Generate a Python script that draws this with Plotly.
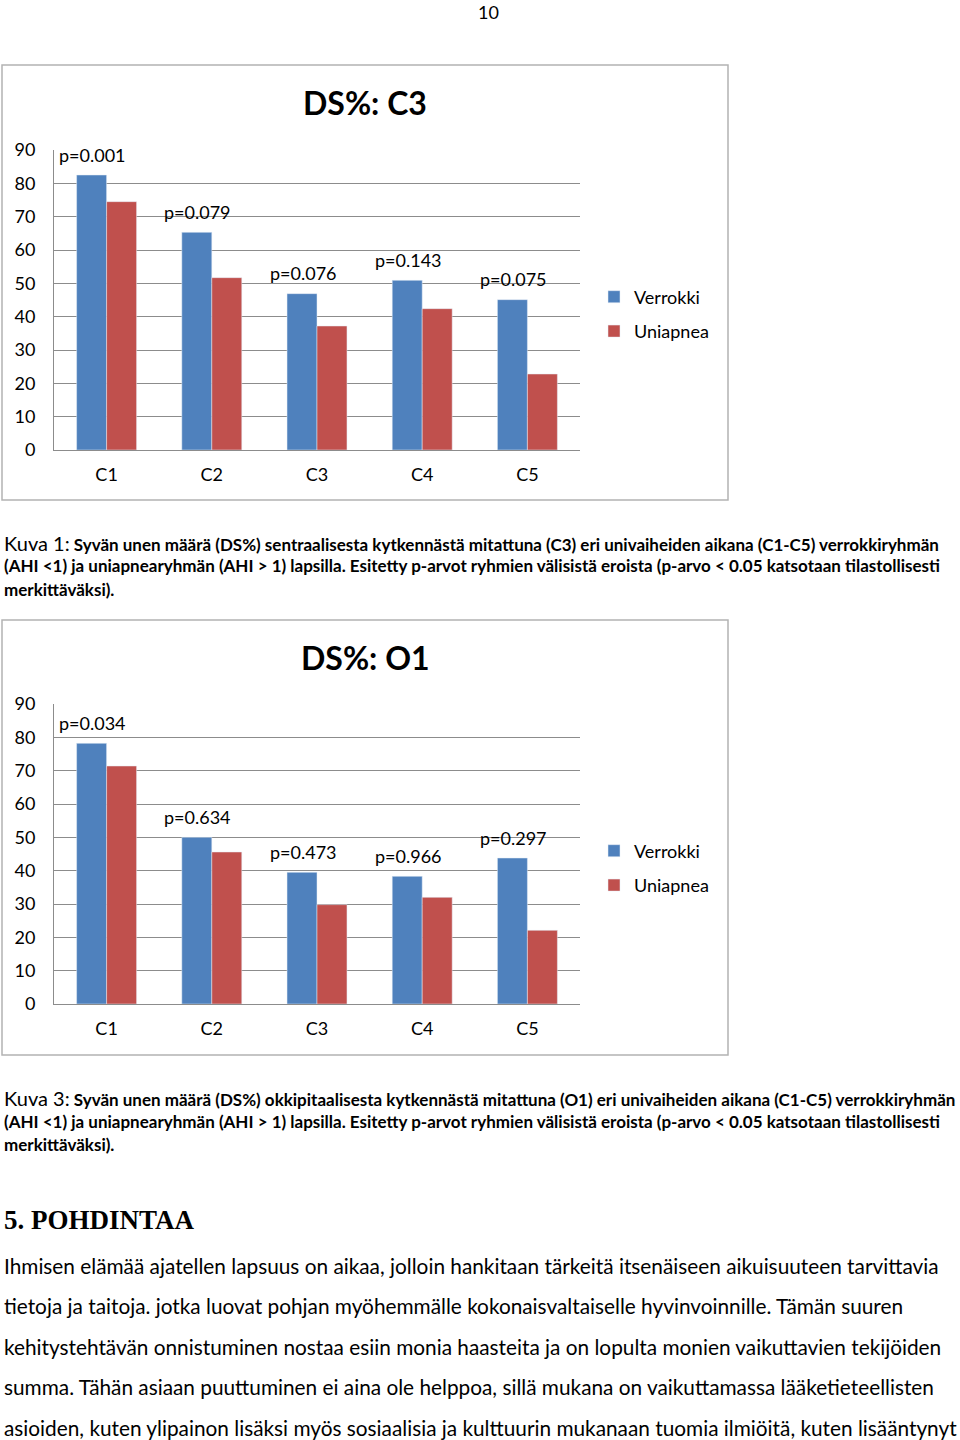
import plotly.graph_objects as go

categories = ["C1", "C2", "C3", "C4", "C5"]
y_ticks = [0, 10, 20, 30, 40, 50, 60, 70, 80, 90]

c3_verrokki = [82.5, 65.3, 46.9, 50.9, 45.1]
c3_uniapnea = [74.5, 51.7, 37.2, 42.4, 22.8]
c3_p_text = ["p=0.001", "p=0.079", "p=0.076", "p=0.143", "p=0.075"]
c3_p_y = [88.5, 71.4, 53.1, 57.0, 51.3]

o1_verrokki = [78.2, 50.0, 39.5, 38.3, 43.8]
o1_uniapnea = [71.4, 45.6, 29.8, 32.0, 22.1]
o1_p_text = ["p=0.034", "p=0.634", "p=0.473", "p=0.966", "p=0.297"]
o1_p_y = [84.3, 56.1, 45.6, 44.4, 49.8]

series_names = ["Verrokki", "Uniapnea"]
chart_titles = ["DS%: C3", "DS%: O1"]

caption1 = [
    "<span style='font-size:20px'>Kuva 1:</span><b> Syvän unen määrä (DS%) sentraalisesta kytkennästä mitattuna (C3) eri univaiheiden aikana (C1-C5) verrokkiryhmän</b>",
    "<b>(AHI &lt;1) ja uniapnearyhmän (AHI &gt; 1) lapsilla. Esitetty p-arvot ryhmien välisistä eroista (p-arvo &lt; 0.05 katsotaan tilastollisesti</b>",
    "<b>merkittäväksi).</b>",
]
caption3 = [
    "<span style='font-size:20px'>Kuva 3:</span><b> Syvän unen määrä (DS%) okkipitaalisesta kytkennästä mitattuna (O1) eri univaiheiden aikana (C1-C5) verrokkiryhmän</b>",
    "<b>(AHI &lt;1) ja uniapnearyhmän (AHI &gt; 1) lapsilla. Esitetty p-arvot ryhmien välisistä eroista (p-arvo &lt; 0.05 katsotaan tilastollisesti</b>",
    "<b>merkittäväksi).</b>",
]
heading = "5. POHDINTAA"
paragraph = [
    "Ihmisen elämää ajatellen lapsuus on aikaa, jolloin hankitaan tärkeitä itsenäiseen aikuisuuteen tarvittavia",
    "tietoja ja taitoja. jotka luovat pohjan myöhemmälle kokonaisvaltaiselle hyvinvoinnille. Tämän suuren",
    "kehitystehtävän onnistuminen nostaa esiin monia haasteita ja on lopulta monien vaikuttavien tekijöiden",
    "summa. Tähän asiaan puuttuminen ei aina ole helppoa, sillä mukana on vaikuttamassa lääketieteellisten",
    "asioiden, kuten ylipainon lisäksi myös sosiaalisia ja kulttuurin mukanaan tuomia ilmiöitä, kuten lisääntynyt",
]

W, H = 960, 1440
BLUE = "#4f81bd"
RED = "#c0504d"
FONT = "Lato"
GRID = "#8c8c8c"

def px(x):
    return x / W

def py(y):
    return 1 - y / H

fig = go.Figure()

charts = [
    dict(v=c3_verrokki, u=c3_uniapnea, pt=c3_p_text, pyv=c3_p_y,
         box=(2, 65, 728, 500), title_y=103, legend="legend", ax="", title=chart_titles[0]),
    dict(v=o1_verrokki, u=o1_uniapnea, pt=o1_p_text, pyv=o1_p_y,
         box=(2, 620, 728, 1055), title_y=658, legend="legend2", ax="2", title=chart_titles[1]),
]

annotations = []
shapes = []
for i, ch in enumerate(charts):
    xa = "x" + ch["ax"]
    ya = "y" + ch["ax"]
    fig.add_trace(go.Bar(x=categories, y=ch["v"], name=series_names[0], marker_color=BLUE,
                         xaxis=xa, yaxis=ya, legend=ch["legend"], legendgroup="a"))
    fig.add_trace(go.Bar(x=categories, y=ch["u"], name=series_names[1], marker_color=RED,
                         xaxis=xa, yaxis=ya, legend=ch["legend"], legendgroup="b"))
    for j, (t, yv) in enumerate(zip(ch["pt"], ch["pyv"])):
        annotations.append(dict(x=j - 0.47, y=yv, xref=xa, yref=ya, text=t, showarrow=False,
                                xanchor="left", yanchor="middle",
                                font=dict(family=FONT, size=18, color="#000000")))
    annotations.append(dict(x=px(365), y=py(ch["title_y"]), xref="paper", yref="paper",
                            text="<b>" + ch["title"] + "</b>", showarrow=False,
                            xanchor="center", yanchor="middle",
                            font=dict(family=FONT, size=32, color="#000000")))
    x0, y0, x1, y1 = ch["box"]
    shapes.append(dict(type="rect", xref="paper", yref="paper", x0=px(x0), x1=px(x1),
                       y0=py(y0), y1=py(y1), line=dict(color="#b3b3b3", width=1.5)))

axis_common_x = dict(showgrid=False, showline=True, linecolor=GRID, linewidth=1,
                     tickfont=dict(family=FONT, size=18, color="#000000"), ticks="",
                     ticklabelstandoff=8, automargin=False)
axis_common_y = dict(range=[0, 90], tickvals=y_ticks, showgrid=True, gridcolor=GRID, gridwidth=1,
                     showline=True, linecolor=GRID, linewidth=1, zeroline=False,
                     tickfont=dict(family=FONT, size=18, color="#000000"), ticks="",
                     ticklabelstandoff=14, automargin=False)

legend_common = dict(xanchor="left", yanchor="middle",
                     font=dict(family=FONT, size=18, color="#000000"), tracegroupgap=8,
                     itemwidth=30, traceorder="grouped", bgcolor="rgba(0,0,0,0)")

fig.update_layout(
    width=W, height=H, margin=dict(l=0, r=0, t=0, b=0, pad=0, autoexpand=False),
    paper_bgcolor="white", plot_bgcolor="white",
    barmode="group", bargap=0.43, bargroupgap=0,
    xaxis=dict(domain=[px(54), px(580)], anchor="y", **axis_common_x),
    yaxis=dict(domain=[py(450), py(150)], anchor="x", **axis_common_y),
    xaxis2=dict(domain=[px(54), px(580)], anchor="y2", **axis_common_x),
    yaxis2=dict(domain=[py(1004), py(704)], anchor="x2", **axis_common_y),
    legend=dict(x=px(594), y=py(314), **legend_common),
    legend2=dict(x=px(594), y=py(868), **legend_common),
    showlegend=True,
)

# page number
annotations.append(dict(x=px(488), y=1, xref="paper", yref="paper", text="10", showarrow=False,
                        xanchor="center", yanchor="top", borderpad=0,
                        font=dict(family=FONT, size=18, color="#000000")))

for k, line in enumerate(caption1):
    annotations.append(dict(x=px(2), y=py(543 + 23 * k), xref="paper", yref="paper", text=line,
                            showarrow=False, xanchor="left", yanchor="middle",
                            font=dict(family=FONT, size=17, color="#000000")))
for k, line in enumerate(caption3):
    annotations.append(dict(x=px(2), y=py(1098 + 23 * k), xref="paper", yref="paper", text=line,
                            showarrow=False, xanchor="left", yanchor="middle",
                            font=dict(family=FONT, size=17, color="#000000")))

annotations.append(dict(x=px(2), y=py(1220), xref="paper", yref="paper", text="<b>" + heading + "</b>",
                        showarrow=False, xanchor="left", yanchor="middle",
                        font=dict(family="Liberation Serif", size=27, color="#000000")))
for k, line in enumerate(paragraph):
    annotations.append(dict(x=px(2), y=py(1265 + 40.5 * k), xref="paper", yref="paper", text=line,
                            showarrow=False, xanchor="left", yanchor="middle",
                            font=dict(family=FONT, size=20.8, color="#000000")))

fig.update_layout(annotations=annotations, shapes=shapes)
fig.write_html("out.html")
